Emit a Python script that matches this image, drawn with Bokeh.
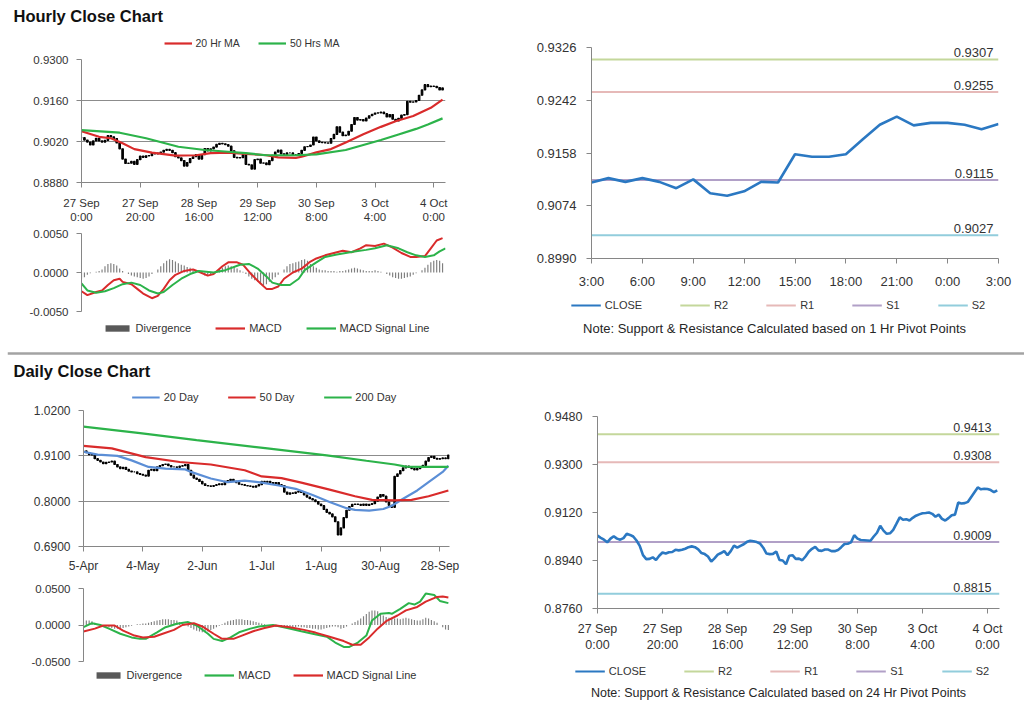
from bokeh.plotting import figure
from bokeh.models import (Range1d, FixedTicker, NumeralTickFormatter, Legend, LegendItem,
                          Label, Span)
from bokeh.layouts import column, row
from bokeh.embed import file_html
from bokeh.resources import INLINE
from bokeh.core.properties import value

FONT = "Liberation Sans"
AXC = "#868686"
GRIDC = "#8c8c8c"
TXT = "#333333"
RED = "#d92b2b"
GREEN = "#2cb34a"
BLUE20 = "#5b8ed6"
CLOSEC = "#2b78c2"
DIVC = "#7f7f7f"
R2C, R1C, S1C, S2C = "#c4d79b", "#e6b9b8", "#b1a0c7", "#92cddc"

# ------------------------------------------------------------------ data
# hourly close, 27 Sep 0:00 .. 4 Oct 3:00 (trading hours)
hourly_close = [
    0.9033, 0.9025, 0.9018, 0.9008, 0.9022, 0.9031, 0.9022, 0.9018, 0.9024, 0.9040,
    0.9036, 0.9030, 0.9015, 0.8995, 0.8960, 0.8945, 0.8946, 0.8952, 0.8942, 0.8958,
    0.8970, 0.8966, 0.8971, 0.8972, 0.8980, 0.8978, 0.8980, 0.8984, 0.8990, 0.8993,
    0.8990, 0.8982, 0.8968, 0.8964, 0.8955, 0.8936, 0.8948, 0.8962, 0.8968, 0.8975,
    0.8960, 0.8975, 0.8996, 0.8988, 0.8995, 0.9001, 0.9010, 0.9014, 0.9012, 0.9009,
    0.9004, 0.8988, 0.8966, 0.8964, 0.8965, 0.8974, 0.8942, 0.8940, 0.8926, 0.8958,
    0.8960, 0.8946, 0.8947, 0.8941, 0.8955, 0.8973, 0.8984, 0.8991, 0.8978, 0.8976,
    0.8981, 0.8981, 0.8975, 0.8975, 0.8979, 0.8990, 0.9002, 0.9003, 0.9008, 0.9035,
    0.9022, 0.9017, 0.9016, 0.9015, 0.9014, 0.9030, 0.9044, 0.9070, 0.9052, 0.9040,
    0.9042, 0.9055, 0.9078, 0.9102, 0.9093, 0.9095, 0.9090, 0.9100, 0.9108, 0.9113,
    0.9117, 0.9118, 0.9120, 0.9115, 0.9104, 0.9112, 0.9096, 0.9090, 0.9099, 0.9110,
    0.9112, 0.9157, 0.9154, 0.9155, 0.9160, 0.9178, 0.9196, 0.9214, 0.9207, 0.9209,
    0.9208, 0.9204, 0.9196, 0.9203]
hourly_tick_pos = [0, 20, 40, 60, 80, 100, 120]
hourly_tick_labels = ["27 Sep\n0:00", "27 Sep\n20:00", "28 Sep\n16:00", "29 Sep\n12:00",
                      "30 Sep\n8:00", "3 Oct\n4:00", "4 Oct\n0:00"]

ma20_hours = [0, 6, 10, 14, 18, 24, 32, 39, 44, 50, 56, 63, 67, 73, 75, 80, 85, 90, 96, 102,
              107, 113, 119, 123]
ma20_vals = [0.9055, 0.9036, 0.9031, 0.9014, 0.8994, 0.8982, 0.8972, 0.8973, 0.8980, 0.8982,
             0.8978, 0.8973, 0.8966, 0.8964, 0.8968, 0.8983, 0.8994, 0.9017, 0.9045, 0.9070,
             0.9089, 0.9107, 0.9135, 0.9163]
ma50_hours = [0, 13, 22, 33, 42, 50, 56, 63, 73, 80, 90, 96, 102, 108, 114, 118, 123]
ma50_vals = [0.9059, 0.9050, 0.9031, 0.9002, 0.8991, 0.8985, 0.8980, 0.8973, 0.8973, 0.8976,
             0.8991, 0.9008, 0.9025, 0.9044, 0.9063, 0.9078, 0.9099]

macd_h_hours = [0, 2, 5, 7, 9, 11, 13, 14, 17, 19, 21, 24, 26, 28, 30, 32, 35, 38, 40, 43,
                45, 48, 50, 53, 55, 58, 61, 63, 65, 67, 69, 72, 75, 78, 80, 83, 86, 89, 92, 95,
                97, 100, 103, 106, 109, 112, 114, 117, 119, 121, 123]
macd_h_vals = [-0.0024, -0.0029, -0.0025, -0.0023, -0.0016, -0.0010, -0.0008, -0.0012, -0.0015, -0.0021,
               -0.0027, -0.0033, -0.0030, -0.0021, -0.0010, -0.0003, 0.0002, 0.0004, 0.0001, -0.0004,
               -0.0002, 0.0008, 0.0013, 0.0013, 0.0010, -0.0003, -0.0014, -0.0021, -0.0021, -0.0018,
               -0.0008, 0.0000, 0.0005, 0.0014, 0.0018, 0.0022, 0.0025, 0.0028, 0.0026, 0.0031,
               0.0035, 0.0034, 0.0037, 0.0032, 0.0025, 0.0020, 0.0020, 0.0021, 0.0031, 0.0041,
               0.0044]
signal_h_hours = [0, 2, 5, 8, 11, 14, 17, 20, 23, 26, 28, 31, 34, 37, 40, 45, 49, 54, 57, 60,
                  63, 65, 68, 71, 74, 76, 80, 83, 87, 90, 93, 97, 100, 104, 108, 111, 114, 117,
                  120, 122, 124]
signal_h_vals = [-0.0014, -0.0023, -0.0026, -0.0024, -0.0020, -0.0015, -0.0013, -0.0016, -0.0023, -0.0027,
                 -0.0025, -0.0016, -0.0008, -0.0002, 0.0002, 0.0000, 0.0003, 0.0010, 0.0011, 0.0005,
                 -0.0005, -0.0013, -0.0016, -0.0016, -0.0008, 0.0003, 0.0013, 0.0020, 0.0023, 0.0025,
                 0.0027, 0.0029, 0.0031, 0.0035, 0.0031, 0.0026, 0.0022, 0.0020, 0.0022, 0.0027,
                 0.0031]
divergence_h = [
    -0.0008, -0.0006, -0.0003,
    -0.0001, 0.0000, 0.0001, 0.0002,
    0.0004, 0.0008, 0.0011, 0.0012, 0.0011, 0.0009,
    0.0005, 0.0002, 0.0000,
    -0.0002, -0.0004, -0.0005, -0.0006, -0.0007, -0.0008, -0.0007, -0.0005,
    -0.0002, 0.0000, 0.0004,
    0.0008, 0.0012, 0.0015, 0.0017, 0.0016, 0.0014, 0.0012,
    0.0010, 0.0009, 0.0007, 0.0006, 0.0004, 0.0002, 0.0000,
    -0.0002, -0.0004, -0.0004, -0.0003, -0.0001, 0.0002,
    0.0004, 0.0006, 0.0008, 0.0009, 0.0008, 0.0007, 0.0005, 0.0003, 0.0001,
    -0.0002, -0.0005, -0.0008, -0.0010, -0.0012, -0.0014, -0.0016, -0.0015, -0.0012, -0.0009, -0.0006, -0.0003,
    0.0000, 0.0004, 0.0008, 0.0011, 0.0012, 0.0013, 0.0014, 0.0016, 0.0017, 0.0015, 0.0011, 0.0008, 0.0006,
    0.0004, 0.0003, 0.0003, 0.0002, 0.0002, 0.0002, 0.0001, 0.0002, 0.0002, 0.0003,
    0.0004, 0.0005, 0.0006, 0.0005, 0.0004, 0.0003, 0.0002, 0.0002,
    0.0002, 0.0003, 0.0002, 0.0001, 0.0000,
    -0.0002, -0.0004, -0.0006, -0.0007, -0.0008, -0.0008, -0.0007, -0.0006, -0.0005, -0.0003, -0.0001, 0.0000,
    0.0003, 0.0006, 0.0010, 0.0013, 0.0015, 0.0016, 0.0015, 0.0012]

# 1 hour pivot chart (3:00 .. 3:00)
close_1h = [0.9111, 0.9118, 0.9112, 0.9118, 0.9112, 0.9102, 0.9116, 0.9094, 0.9090, 0.9097,
            0.9112, 0.9111, 0.9156, 0.9152, 0.9152, 0.9156, 0.9180, 0.9203, 0.9216, 0.9202,
            0.9206, 0.9206, 0.9203, 0.9196, 0.9204]
pivot1h_tick_pos = [0, 3, 6, 9, 12, 15, 18, 21, 24]
pivot1h_tick_labels = ["3:00", "6:00", "9:00", "12:00", "15:00", "18:00", "21:00", "0:00", "3:00"]
pivot1h_y_ticks = [0.8990, 0.9074, 0.9158, 0.9242, 0.9326]
r2_1h, r1_1h, s1_1h, s2_1h = 0.9307, 0.9255, 0.9115, 0.9027

# daily close, 5-Apr .. early Oct
daily_close = [
    0.922, 0.918, 0.913, 0.912, 0.903, 0.899, 0.895, 0.891, 0.894, 0.895,
    0.897, 0.889, 0.883, 0.879, 0.882, 0.877, 0.873, 0.871, 0.871, 0.867,
    0.865, 0.863, 0.861, 0.875, 0.877, 0.874, 0.883, 0.886, 0.889, 0.890,
    0.886, 0.883, 0.883, 0.882, 0.885, 0.886, 0.889, 0.875, 0.863, 0.856,
    0.853, 0.848, 0.842, 0.838, 0.837, 0.836, 0.838, 0.840, 0.842, 0.840,
    0.848, 0.850, 0.853, 0.848, 0.845, 0.841, 0.840, 0.838, 0.837, 0.836,
    0.834, 0.837, 0.840, 0.848, 0.846, 0.848, 0.845, 0.843, 0.845, 0.840,
    0.838, 0.822, 0.817, 0.820, 0.819, 0.822, 0.824, 0.821, 0.815, 0.810,
    0.806, 0.803, 0.799, 0.793, 0.789, 0.780, 0.773, 0.769, 0.762, 0.750,
    0.718, 0.735, 0.760, 0.778, 0.787, 0.792, 0.793, 0.792, 0.790, 0.793,
    0.790, 0.792, 0.794, 0.800, 0.810, 0.816, 0.812, 0.798, 0.790, 0.785,
    0.860, 0.866, 0.874, 0.881, 0.885, 0.882, 0.879, 0.876, 0.879, 0.884,
    0.887, 0.897, 0.906, 0.909, 0.904, 0.902, 0.903, 0.905, 0.903, 0.912]
daily_tick_pos = [0, 21, 42, 63, 84, 105, 126]
daily_tick_labels = ["5-Apr", "4-May", "2-Jun", "1-Jul", "1-Aug", "30-Aug", "28-Sep"]

sma20_days = [0, 5, 12, 17, 23, 29, 36, 38, 45, 51, 57, 63, 69, 75, 81, 87, 93, 96, 101, 106,
              109, 113, 118, 122, 127, 129]
sma20_vals = [0.920, 0.913, 0.910, 0.899, 0.883, 0.879, 0.877, 0.871, 0.855, 0.846,
              0.850, 0.845, 0.838, 0.830, 0.815, 0.798, 0.783, 0.779, 0.777, 0.781,
              0.789, 0.806, 0.826, 0.846, 0.871, 0.886]
sma50_days = [0, 10, 22, 34, 45, 57, 63, 70, 77, 87, 96, 102, 110, 116, 122, 129]
sma50_vals = [0.934, 0.928, 0.907, 0.895, 0.889, 0.875, 0.860, 0.856, 0.845, 0.828,
              0.812, 0.803, 0.802, 0.803, 0.812, 0.826]
sma200_days = [0, 20, 40, 65, 86, 100, 110, 114, 120, 129]
sma200_vals = [0.981, 0.965, 0.948, 0.928, 0.911, 0.898, 0.889, 0.884, 0.883, 0.883]

macd_d_days = [0, 3, 6, 9, 13, 17, 20, 22, 26, 29, 33, 37, 40, 44, 46, 49, 52, 55, 59, 62,
               67, 72, 77, 81, 86, 89, 92, 94, 97, 100, 102, 105, 108, 109, 112, 115, 117, 119,
               121, 124, 126, 129]
macd_d_vals = [-0.003, 0.0025, 0.0, -0.005, -0.012, -0.017, -0.019, -0.019, -0.010, -0.003,
               0.0016, 0.004, -0.0007, -0.012, -0.019, -0.022, -0.017, -0.010, -0.005, -0.002,
               0.0, -0.004, -0.0085, -0.012, -0.016, -0.024, -0.030, -0.030, -0.024, -0.0145,
               0.0062, 0.0154, 0.0164, 0.0154, 0.022, 0.030, 0.028, 0.032, 0.043, 0.041,
               0.033, 0.030]
signal_d_days = [0, 4, 7, 11, 14, 18, 21, 25, 28, 32, 35, 39, 42, 46, 49, 53, 56, 60, 64, 68,
                 73, 78, 82, 87, 92, 95, 98, 101, 104, 107, 111, 114, 118, 121, 125, 127, 129]
signal_d_vals = [-0.009, -0.005, -0.0007, -0.0007, -0.0076, -0.0145, -0.017, -0.016, -0.012, -0.0067,
                 0.0, 0.0025, -0.002, -0.012, -0.019, -0.019, -0.0145, -0.0085, -0.004, -0.0007,
                 -0.003, -0.0067, -0.0104, -0.016, -0.022, -0.027, -0.027, -0.017, -0.005, 0.0053,
                 0.013, 0.020, 0.0247, 0.032, 0.0385, 0.039, 0.0376]
divergence_d = [
    0.004, 0.006, 0.006, 0.005, 0.003,
    0.001, 0.000, -0.001, -0.002,
    -0.003, -0.004, -0.005, -0.005, -0.004, -0.004, -0.003, -0.002, -0.001,
    0.000, 0.001, 0.001, 0.002, 0.002, 0.003,
    0.004, 0.005, 0.006, 0.007, 0.008, 0.008, 0.008, 0.007, 0.007, 0.006, 0.004, 0.002,
    0.000, -0.002, -0.004, -0.006, -0.008, -0.009, -0.010, -0.010, -0.009, -0.007, -0.005, -0.003,
    -0.001, 0.001, 0.003, 0.005, 0.006, 0.007,
    0.008, 0.008, 0.008, 0.007, 0.007, 0.006, 0.005, 0.004, 0.003, 0.002, 0.001,
    0.000, -0.001, -0.001, -0.002, -0.002, -0.002, -0.002, -0.002,
    -0.002, -0.003, -0.003, -0.002, -0.003, -0.003, -0.004, -0.004, -0.005, -0.005, -0.006, -0.006, -0.005,
    -0.004, -0.003, -0.002, -0.002, -0.003, -0.005, -0.004,
    -0.002, 0.000, 0.002, 0.004, 0.006, 0.009,
    0.012, 0.015, 0.018, 0.020, 0.020, 0.019, 0.016, 0.013,
    0.011, 0.010, 0.010, 0.009, 0.009, 0.008, 0.009, 0.010, 0.009, 0.008,
    0.007, 0.006, 0.006, 0.008, 0.010, 0.009, 0.007, 0.005, 0.003,
    0.000, -0.003, -0.006, -0.007]

# 24 hour pivot chart
pivot24_y_ticks = [0.8760, 0.8940, 0.9120, 0.9300, 0.9480]
r2_24, r1_24, s1_24, s2_24 = 0.9413, 0.9308, 0.9009, 0.8815

PAGE_W = 1024
LEFT_W = 468
RIGHT_W = PAGE_W - LEFT_W


# ------------------------------------------------------------------ helpers
def bare_fig(w, h, l=0, r=0, t=0, b=0, xr=(0, 1), yr=(0, 1)):
    p = figure(width=w, height=h, x_range=Range1d(*xr), y_range=Range1d(*yr),
               output_backend="svg", toolbar_location=None, tools="",
               min_border_left=l, min_border_right=r, min_border_top=t, min_border_bottom=b,
               x_axis_location=None, y_axis_location=None)
    p.outline_line_color = None
    p.grid.visible = False
    return p


def base_fig(w, h, xr, yr, l, r, t, b, xaxis=True):
    p = figure(width=w, height=h, x_range=Range1d(*xr), y_range=Range1d(*yr),
               output_backend="svg", toolbar_location=None, tools="",
               min_border_left=l, min_border_right=r, min_border_top=t, min_border_bottom=b,
               x_axis_location="below" if xaxis else None)
    p.outline_line_color = None
    for g in p.xgrid:
        g.grid_line_color = None
    return p


def style_y(p, ticks, fmt, size, standoff, grid_ticks=None):
    ax = p.yaxis[0]
    ax.ticker = FixedTicker(ticks=ticks)
    ax.formatter = NumeralTickFormatter(format=fmt)
    ax.axis_line_color = AXC
    ax.major_tick_line_color = AXC
    ax.minor_tick_line_color = None
    ax.major_tick_in = 0
    ax.major_tick_out = 5
    ax.major_label_standoff = standoff
    ax.major_label_text_font = FONT
    ax.major_label_text_font_size = size
    ax.major_label_text_color = TXT
    g = p.ygrid[0]
    if grid_ticks is None:
        g.grid_line_color = None
    else:
        g.ticker = FixedTicker(ticks=grid_ticks)
        g.grid_line_color = GRIDC
        g.grid_line_width = 1


def style_x(p, ticks, labels, size, standoff):
    ax = p.xaxis[0]
    ax.ticker = FixedTicker(ticks=ticks)
    ax.major_label_overrides = {t: lab for t, lab in zip(ticks, labels)}
    ax.axis_line_color = AXC
    ax.major_tick_line_color = AXC
    ax.minor_tick_line_color = None
    ax.major_tick_in = 0
    ax.major_tick_out = 5
    ax.major_label_standoff = standoff
    ax.major_label_text_font = FONT
    ax.major_label_text_font_size = size
    ax.major_label_text_color = TXT


def legend_fig(w, h, l, r, t, b, entries, glyph_w, spacing, size, glyph_h=12):
    """Legend strip. entries: (label, kind, colour, xs, ys). The series are drawn
    out of this strip's view, so only their legend keys are visible here."""
    p = bare_fig(w, h, l, r, t, b, xr=(-3, -2), yr=(-3, -2))
    items = []
    for lab, kind, col, xs, ys in entries:
        if kind == "bar":
            rr = p.vbar(x=xs, top=ys, bottom=0, width=1, fill_color=col, line_color=None)
        else:
            rr = p.line(x=xs, y=ys, line_color=col, line_width=2.2)
        items.append(LegendItem(label=lab, renderers=[rr]))
    leg = Legend(items=items, orientation="horizontal", location="center",
                 glyph_width=glyph_w, glyph_height=glyph_h, label_height=12,
                 label_width=0, label_standoff=4, spacing=spacing, padding=0, margin=0,
                 border_line_color=None, background_fill_alpha=0,
                 label_text_font=FONT, label_text_font_size=size, label_text_color=TXT)
    p.add_layout(leg, "center")
    return p


def text_fig(w, h, txt, x, y_top, size, bold, align="left"):
    p = bare_fig(w, h, xr=(0, w), yr=(0, h))
    p.add_layout(Label(x=x, y=h - y_top, text=txt, text_font=FONT, text_font_size=size,
                       text_font_style="bold" if bold else "normal", text_align=align,
                       text_baseline="middle", text_color="#111111" if bold else "#262626"))
    return p


def line_fig(w, h, y_top, color, width, left=0):
    p = bare_fig(w, h, l=left, xr=(0, 1), yr=(0, h))
    p.add_layout(Span(location=h - y_top, dimension="width", line_color=color, line_width=width))
    return p


def ohlc(p, closes, width):
    xs = list(range(len(closes)))
    opens = [closes[0]] + closes[:-1]
    tops = [max(o, c) for o, c in zip(opens, closes)]
    bots = [min(o, c) for o, c in zip(opens, closes)]
    p.vbar(x=xs, top=tops, bottom=bots, width=width, fill_color="black",
           line_color="black", line_width=1.2)


def pivot_lines(p, x_end, levels, colors, size, xoff, yoff):
    for lvl, col in zip(levels, colors):
        p.line(x=[0, x_end], y=[lvl, lvl], line_color=col, line_width=2)
    p.text(x=[x_end] * len(levels), y=levels, text=["%.4f" % v for v in levels],
           text_align="right", text_baseline="bottom", x_offset=xoff, y_offset=yoff,
           text_font=value(FONT), text_font_size=size, text_color=TXT)


def pivot_keys(xs, closes, x_end, levels):
    keys = [("CLOSE", "line", CLOSEC, xs, closes)]
    for lab, col, lvl in zip(["R2", "R1", "S1", "S2"], [R2C, R1C, S1C, S2C], levels):
        keys.append((lab, "line", col, [0, x_end], [lvl, lvl]))
    return keys


hours = list(range(len(hourly_close)))
hours_1h = list(range(len(close_1h)))
div_h_x = list(range(len(divergence_h)))
div_d_x = list(range(len(divergence_d)))
levels_1h = [r2_1h, r1_1h, s1_1h, s2_1h]
levels_24 = [r2_24, r1_24, s1_24, s2_24]

# ------------------------------------------------------------------ hourly block
title1 = text_fig(PAGE_W, 28, "Hourly Close Chart", 13, 15, "16.5px", True)

leg_tl = legend_fig(LEFT_W, 23, 35, 0, 7, 0,
                    [("20 Hr MA", "line", RED, ma20_hours, ma20_vals),
                     ("50 Hrs MA", "line", GREEN, ma50_hours, ma50_vals)], 28, 18, "10.5px")

tl = base_fig(LEFT_W, 175, (0, 124), (0.888, 0.930), 81, 23, 8, 44)
style_y(tl, [0.888, 0.902, 0.916, 0.930], "0.0000", "11.5px", 8,
        grid_ticks=[0.888, 0.902, 0.916, 0.930])
style_x(tl, hourly_tick_pos, hourly_tick_labels, "11.5px", 9)
ohlc(tl, hourly_close, 0.5)
tl.line(ma20_hours, ma20_vals, line_color=RED, line_width=2.2)
tl.line(ma50_hours, ma50_vals, line_color=GREEN, line_width=2.2)

tlm = base_fig(LEFT_W, 92, (0, 124), (-0.005, 0.005), 81, 21, 7, 7, xaxis=False)
style_y(tlm, [-0.005, 0.0, 0.005], "0.0000", "11.5px", 8, grid_ticks=[-0.005, 0.005])
tlm.vbar(x=div_h_x, top=divergence_h, bottom=0, width=0.4, fill_color=DIVC, line_color=None)
tlm.line(macd_h_hours, macd_h_vals, line_color=RED, line_width=2)
tlm.line(signal_h_hours, signal_h_vals, line_color=GREEN, line_width=2)
leg_tlm = legend_fig(LEFT_W, 27, 63, 0, 0, 7,
                     [("Divergence", "bar", "#595959", div_h_x, divergence_h),
                      ("MACD", "line", RED, macd_h_hours, macd_h_vals),
                      ("MACD Signal Line", "line", GREEN, signal_h_hours, signal_h_vals)],
                     30, 24, "11px", glyph_h=8)

tr = base_fig(RIGHT_W, 263, (0, 24), (0.8990, 0.9326), 123, RIGHT_W - 530, 19, 30)
style_y(tr, pivot1h_y_ticks, "0.0000", "13px", 10)
style_x(tr, pivot1h_tick_pos, pivot1h_tick_labels, "13px", 10)
pivot_lines(tr, 24, levels_1h, [R2C, R1C, S1C, S2C], "13px", -5, -2)
tr.line(hours_1h, close_1h, line_color=CLOSEC, line_width=2.6)
leg_tr = legend_fig(RIGHT_W, 28, 2 * 310 - RIGHT_W, 0, 0, 0,
                    pivot_keys(hours_1h, close_1h, 24, levels_1h), 30, 38, "11px")
note_tr = text_fig(RIGHT_W, 26, "Note: Support & Resistance Calculated based on 1 Hr Pivot Points",
                   306, 9, "13px", False, "center")

# ------------------------------------------------------------------ separator
sep = line_fig(PAGE_W, 16, 8, "#a3a3a3", 2.5, left=7)

# ------------------------------------------------------------------ daily block
title2 = text_fig(PAGE_W, 20, "Daily Close Chart", 13, 9, "16.5px", True)

leg_bl = legend_fig(LEFT_W, 22, 60, 0, 10, 0,
                    [("20 Day", "line", BLUE20, sma20_days, sma20_vals),
                     ("50 Day", "line", RED, sma50_days, sma50_vals),
                     ("200 Day", "line", GREEN, sma200_days, sma200_vals)], 28, 29, "11px")

bl = base_fig(LEFT_W, 175, (0, 129.4), (0.69, 1.02), 83, 19, 7, 32)
style_y(bl, [0.69, 0.80, 0.91, 1.02], "0.0000", "12px", 8, grid_ticks=[0.69, 0.80, 0.91, 1.02])
style_x(bl, daily_tick_pos, daily_tick_labels, "12px", 7)
ohlc(bl, daily_close, 0.5)
bl.line(sma20_days, sma20_vals, line_color=BLUE20, line_width=2.2)
bl.line(sma50_days, sma50_vals, line_color=RED, line_width=2.2)
bl.line(sma200_days, sma200_vals, line_color=GREEN, line_width=2.2)

blm = base_fig(LEFT_W, 91, (0, 129.4), (-0.05, 0.05), 83, 18, 10, 8, xaxis=False)
style_y(blm, [-0.05, 0.0, 0.05], "0.0000", "11.5px", 8, grid_ticks=[-0.05, 0.05])
blm.vbar(x=div_d_x, top=divergence_d, bottom=0, width=0.4, fill_color=DIVC, line_color=None)
blm.line(macd_d_days, macd_d_vals, line_color=GREEN, line_width=2)
blm.line(signal_d_days, signal_d_vals, line_color=RED, line_width=2)
leg_blm = legend_fig(LEFT_W, 31, 41, 0, 0, 19,
                     [("Divergence", "bar", "#595959", div_d_x, divergence_d),
                      ("MACD", "line", GREEN, macd_d_days, macd_d_vals),
                      ("MACD Signal Line", "line", RED, signal_d_days, signal_d_vals)],
                     30, 22, "11px", glyph_h=8)

br = base_fig(RIGHT_W, 274, (0, 123.7), (0.8760, 0.9480), 129, RIGHT_W - 531, 35, 42)
style_y(br, pivot24_y_ticks, "0.0000", "12.5px", 10)
style_x(br, hourly_tick_pos, hourly_tick_labels, "12.5px", 8)
pivot_lines(br, 123.7, levels_24, [R2C, R1C, S1C, S2C], "12.5px", -8, -2)
br.line(hours, hourly_close, line_color=CLOSEC, line_width=2.6)
leg_br = legend_fig(RIGHT_W, 29, 2 * 314 - RIGHT_W, 0, 3, 0,
                    pivot_keys(hours, hourly_close, 123.7, levels_24), 30, 38, "11px")
note_br = text_fig(RIGHT_W, 16, "Note: Support & Resistance Calculated based on 24 Hr Pivot Points",
                   310, 8, "12.5px", False, "center")

bottom_line = line_fig(PAGE_W, 4, 2, "#a3a3a3", 2.5, left=7)

layout = column(
    row(title1),
    row(column(row(leg_tl), tl, tlm, row(leg_tlm)),
        column(tr, row(leg_tr), row(note_tr))),
    row(sep),
    row(title2),
    row(column(row(leg_bl), bl, blm, row(leg_blm)),
        column(br, row(leg_br), row(note_br))),
    row(bottom_line),
)

open("out.html", "w").write(file_html(layout, INLINE))
